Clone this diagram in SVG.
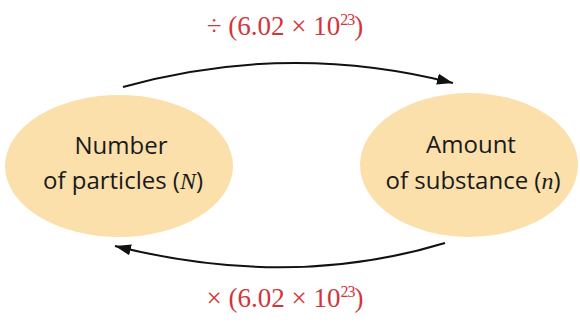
<svg xmlns="http://www.w3.org/2000/svg" width="580" height="322" viewBox="0 0 580 322">
<defs>
<style>
.node{fill:#fbe0ac;}
.lbl{font-family:"Open Sans","Noto Sans",sans-serif;font-size:24px;fill:#1a1a1a;text-anchor:middle;}
.it{font-family:"Liberation Serif",serif;font-style:italic;}
.red{font-family:"Liberation Serif","Times New Roman",serif;font-size:27px;fill:#d2353a;text-anchor:middle;}
.sup{font-size:16px;letter-spacing:-1px;}
.conn{fill:none;stroke:#111;stroke-width:2;}
</style>
<marker id="ah" markerUnits="userSpaceOnUse" markerWidth="18" markerHeight="14" refX="16" refY="7" orient="auto">
<path d="M0,1.5 L16,7 L0,12.5 Z" fill="#111"/>
</marker>
</defs>
<rect width="580" height="322" fill="#fff"/>
<g id="connectors">
<path class="conn" d="M123,87 Q288,41 453,83" marker-end="url(#ah)"/>
<path class="conn" d="M445,243 Q290,290 115,246" marker-end="url(#ah)"/>
</g>
<g id="label-top"><text class="red" x="285" y="35">÷ (6.02 × 10<tspan class="sup" dy="-10">23</tspan><tspan dy="10">)</tspan></text></g>
<g id="label-bottom"><text class="red" x="285" y="307">× (6.02 × 10<tspan class="sup" dy="-10">23</tspan><tspan dy="10">)</tspan></text></g>
<g id="node-particles">
<ellipse class="node" cx="119" cy="166" rx="114" ry="71"/>
<text class="lbl" x="121" y="154">Number</text>
<text class="lbl" x="123" y="189">of particles (<tspan class="it">N</tspan>)</text>
</g>
<g id="node-amount">
<ellipse class="node" cx="469" cy="165" rx="109" ry="72"/>
<text class="lbl" x="471" y="153">Amount</text>
<text class="lbl" x="473" y="189">of substance (<tspan class="it">n</tspan>)</text>
</g>
</svg>
